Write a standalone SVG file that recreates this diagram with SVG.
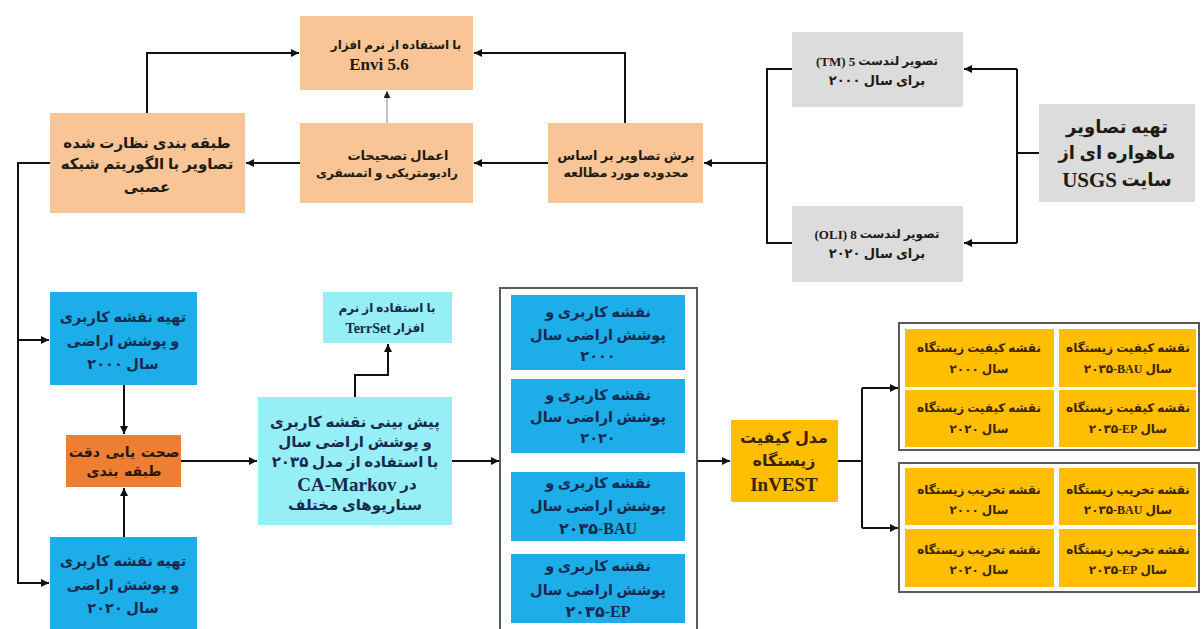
<svg xmlns="http://www.w3.org/2000/svg" width="1202" height="629" viewBox="0 0 1202 629">
<defs>
<marker id="ah" viewBox="0 0 10 10" refX="10" refY="5" markerWidth="9" markerHeight="8" markerUnits="userSpaceOnUse" orient="auto"><path d="M0,0 L10,5 L0,10 z" fill="#111"/></marker>
<marker id="ahg" viewBox="0 0 10 10" refX="10" refY="5" markerWidth="8" markerHeight="7" markerUnits="userSpaceOnUse" orient="auto"><path d="M0,0 L10,5 L0,10 z" fill="#222"/></marker>
</defs>
<style>
.t{font-family:"Liberation Serif","DejaVu Sans",serif;font-weight:bold;text-anchor:middle;direction:rtl;dominant-baseline:central}
.peach{fill:#F9C596}
.gray{fill:#DCDCDC}
.blue{fill:#1DAEEA}
.cyan{fill:#96EEF6}
.org{fill:#EE7E32}
.gold{fill:#FFBF00}
.dk{fill:#1f1a14}
.nv{fill:#17294d}
.br{fill:#3a2300}
.s12{font-size:12px}.s13{font-size:13px}.s14{font-size:14.5px}.s15{font-size:15px}.s16{font-size:16px}.s18{font-size:18px}
.c{fill:none;stroke:#111;stroke-width:2}
.box{fill:#fff;stroke:#5a5a5a;stroke-width:2}
</style>
<rect width="1202" height="629" fill="#fff"/>

<g id="connectors">
<path class="c" d="M1039,153 H1017"/>
<path class="c" d="M1017,69 V243"/>
<path class="c" d="M1017,69 H964" marker-end="url(#ah)"/>
<path class="c" d="M1017,243 H964" marker-end="url(#ah)"/>
<path class="c" d="M792,69 H767 V243 H792"/>
<path class="c" d="M767,163 H704" marker-end="url(#ah)"/>
<path class="c" d="M548,163 H474" marker-end="url(#ah)"/>
<path class="c" d="M625,123 V53 H474" marker-end="url(#ah)"/>
<path d="M387,123 V91" fill="none" stroke="#888" stroke-width="1" marker-end="url(#ahg)"/>
<path class="c" d="M300,163 H246" marker-end="url(#ah)"/>
<path class="c" d="M147,113 V53 H299" marker-end="url(#ah)"/>
<path class="c" d="M50,163 H18 V583 H49" marker-end="url(#ah)"/>
<path class="c" d="M18,340 H49" marker-end="url(#ah)"/>
<path class="c" d="M124,385 V434" marker-end="url(#ah)"/>
<path class="c" d="M124,537 V488" marker-end="url(#ah)"/>
<path class="c" d="M181,461 H257" marker-end="url(#ah)"/>
<path class="c" d="M355,397 V375 H388 V344" marker-end="url(#ah)"/>
<path class="c" d="M452,461 H499" marker-end="url(#ah)"/>
<path class="c" d="M697,461 H730" marker-end="url(#ah)"/>
<path class="c" d="M838,461 H862"/>
<path class="c" d="M862,388 V528"/>
<path class="c" d="M862,388 H898" marker-end="url(#ah)"/>
<path class="c" d="M862,528 H898" marker-end="url(#ah)"/>
</g>

<g id="usgs">
<rect class="gray" x="1039" y="104" width="156" height="98"/>
<text class="t dk s18" x="1117" y="127">تهیه تصاویر</text>
<text class="t dk s18" x="1117" y="153">ماهواره ای از</text>
<text class="t dk s18" x="1117" y="180">سایت <tspan font-size="21">USGS</tspan></text>
</g>
<g id="tm">
<rect class="gray" x="792" y="32" width="171" height="75"/>
<text class="t dk s12" x="877" y="61">تصویر لندست <tspan font-size="13">5 (TM)</tspan></text>
<text class="t dk s13" x="877" y="80">برای سال ۲۰۰۰</text>
</g>
<g id="oli">
<rect class="gray" x="792" y="206" width="171" height="76"/>
<text class="t dk s12" x="877" y="234">تصویر لندست <tspan font-size="13">8 (OLI)</tspan></text>
<text class="t dk s13" x="877" y="253">برای سال ۲۰۲۰</text>
</g>
<g id="crop">
<rect class="peach" x="548" y="123" width="155" height="80"/>
<text class="t dk s13" x="626" y="155">برش تصاویر بر اساس</text>
<text class="t dk" font-size="12.5" x="626" y="173">محدوده مورد مطالعه</text>
</g>
<g id="radiometric">
<rect class="peach" x="300" y="123" width="173" height="80"/>
<text class="t dk s13" x="398" y="155">اعمال تصحیحات</text>
<text class="t dk s12" x="387" y="173">رادیومتریکی و اتمسفری</text>
</g>
<g id="envi">
<rect class="peach" x="300" y="16" width="173" height="74"/>
<text class="t dk s12" x="396" y="45">با استفاده از نرم افزار</text>
<text class="t dk" font-size="17" x="379" y="64">Envi 5.6</text>
</g>
<g id="classification">
<rect class="peach" x="50" y="113" width="195" height="100"/>
<text class="t dk s15" x="147" y="143">طبقه بندی نظارت شده</text>
<text class="t dk s15" x="147" y="164">تصاویر با الگوریتم شبکه</text>
<text class="t dk s15" x="147" y="187">عصبی</text>
</g>

<g id="lulc2000">
<rect class="blue" x="50" y="292" width="147" height="93"/>
<text class="t nv s14" x="123" y="317">تهیه نقشه کاربری</text>
<text class="t nv s14" x="123" y="341">و پوشش اراضی</text>
<text class="t nv s14" x="123" y="364">سال ۲۰۰۰</text>
</g>
<g id="accuracy">
<rect class="org" x="66" y="435" width="115" height="52"/>
<text class="t dk" font-size="14" word-spacing="2" x="124" y="452">صحت یابی دقت</text>
<text class="t dk" font-size="14" word-spacing="2" x="124" y="471">طبقه بندی</text>
</g>
<g id="lulc2020">
<rect class="blue" x="50" y="537" width="147" height="92"/>
<text class="t nv s14" x="123" y="561">تهیه نقشه کاربری</text>
<text class="t nv s14" x="123" y="585">و پوشش اراضی</text>
<text class="t nv s14" x="123" y="608">سال ۲۰۲۰</text>
</g>

<g id="terrset">
<rect class="cyan" x="323" y="292" width="129" height="51"/>
<text class="t nv s12" x="387" y="308">با استفاده از نرم</text>
<text class="t nv s12" x="385" y="328">افزار <tspan font-size="14">TerrSet</tspan></text>
</g>
<g id="prediction">
<rect class="cyan" x="258" y="397" width="194" height="128"/>
<text class="t nv s15" x="355" y="422">پیش بینی نقشه کاربری</text>
<text class="t nv s15" x="355" y="442">و پوشش اراضی سال</text>
<text class="t nv s15" x="355" y="462">با استفاده از مدل ۲۰۳۵</text>
<text class="t nv s15" x="357" y="484">در <tspan font-size="19">CA-Markov</tspan></text>
<text class="t nv s15" x="355" y="505">سناریوهای مختلف</text>
</g>

<g id="lulc-maps">
<rect class="box" x="500" y="288" width="197" height="350"/>
<rect class="blue" x="511" y="295" width="174" height="75"/>
<text class="t nv s14" x="598" y="312">نقشه کاربری و</text>
<text class="t nv s14" x="598" y="335">پوشش اراضی سال</text>
<text class="t nv s14" x="598" y="356">۲۰۰۰</text>
<rect class="blue" x="511" y="379" width="174" height="74"/>
<text class="t nv s14" x="598" y="395">نقشه کاربری و</text>
<text class="t nv s14" x="598" y="417">پوشش اراضی سال</text>
<text class="t nv s14" x="598" y="438">۲۰۲۰</text>
<rect class="blue" x="511" y="472" width="174" height="69"/>
<text class="t nv s14" x="598" y="483">نقشه کاربری و</text>
<text class="t nv s14" x="598" y="506">پوشش اراضی سال</text>
<text class="t nv" font-size="16" x="598" y="528">&#x200E;۲۰۳۵-BAU</text>
<rect class="blue" x="511" y="554" width="174" height="69"/>
<text class="t nv s14" x="598" y="566">نقشه کاربری و</text>
<text class="t nv s14" x="598" y="590">پوشش اراضی سال</text>
<text class="t nv" font-size="16" x="598" y="611">&#x200E;۲۰۳۵-EP</text>
</g>

<g id="invest">
<rect class="gold" x="731" y="420" width="107" height="82"/>
<text class="t br s16" x="784" y="437">مدل کیفیت</text>
<text class="t br s16" x="784" y="460">زیستگاه</text>
<text class="t br" font-size="19" x="784" y="484">InVEST</text>
</g>

<g id="quality-maps">
<rect class="box" x="899" y="323" width="300" height="127"/>
<rect class="gold" x="905" y="329" width="149" height="58"/>
<rect class="gold" x="1059" y="329" width="137" height="58"/>
<rect class="gold" x="905" y="390" width="149" height="57"/>
<rect class="gold" x="1059" y="390" width="137" height="57"/>
<text class="t br s12" x="979" y="348">نقشه کیفیت زیستگاه</text>
<text class="t br s12" x="979" y="369">سال ۲۰۰۰</text>
<text class="t br s12" x="1128" y="348">نقشه کیفیت زیستگاه</text>
<text class="t br s12" x="1128" y="369">سال &#x200E;۲۰۳۵-BAU</text>
<text class="t br s12" x="979" y="408">نقشه کیفیت زیستگاه</text>
<text class="t br s12" x="979" y="429">سال ۲۰۲۰</text>
<text class="t br s12" x="1128" y="408">نقشه کیفیت زیستگاه</text>
<text class="t br s12" x="1128" y="429">سال &#x200E;۲۰۳۵-EP</text>
</g>

<g id="degradation-maps">
<rect class="box" x="899" y="463" width="300" height="129"/>
<rect class="gold" x="905" y="468" width="149" height="57"/>
<rect class="gold" x="1059" y="468" width="137" height="57"/>
<rect class="gold" x="905" y="529" width="149" height="58"/>
<rect class="gold" x="1059" y="529" width="137" height="58"/>
<text class="t br s12" x="979" y="490">نقشه تخریب زیستگاه</text>
<text class="t br s12" x="979" y="510">سال ۲۰۰۰</text>
<text class="t br s12" x="1128" y="490">نقشه تخریب زیستگاه</text>
<text class="t br s12" x="1128" y="510">سال &#x200E;۲۰۳۵-BAU</text>
<text class="t br s12" x="979" y="550">نقشه تخریب زیستگاه</text>
<text class="t br s12" x="979" y="570">سال ۲۰۲۰</text>
<text class="t br s12" x="1128" y="550">نقشه تخریب زیستگاه</text>
<text class="t br s12" x="1128" y="570">سال &#x200E;۲۰۳۵-EP</text>
</g>
</svg>
